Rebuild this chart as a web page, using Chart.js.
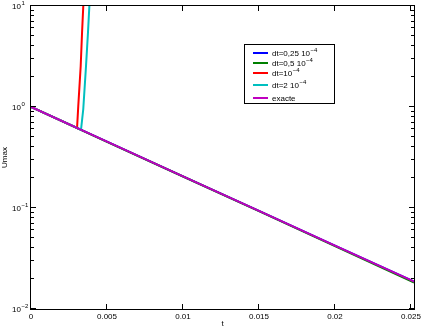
<!DOCTYPE html>
<html>
<head>
<meta charset="utf-8">
<script src="https://cdn.jsdelivr.net/npm/chart.js@4/dist/chart.umd.min.js"></script>
<style>
  html, body { margin: 0; padding: 0; background: #fff; }
  canvas { display: block; }
</style>
</head>
<body>
<canvas id="myChart" width="421" height="330"></canvas>
<script>
// values
const tExact = [0, 0.005, 0.01, 0.015, 0.02, 0.025, 0.0252];
const uExact = [1, 0.454, 0.206, 0.0935, 0.0424, 0.0193, 0.0187];

const tDt025 = [0, 0.005, 0.01, 0.015, 0.02, 0.025, 0.0252];
const uDt025 = [1, 0.454, 0.206, 0.0935, 0.0424, 0.0193, 0.0187];

const tDt05 = [0, 0.005, 0.01, 0.015, 0.02, 0.025, 0.0252];
const uDt05 = [1, 0.452, 0.205, 0.093, 0.042, 0.0189, 0.0183];

const tDt1 = [0, 0.00303, 0.00311, 0.00327, 0.00336, 0.00344, 0.0035];
const uDt1 = [1, 0.62, 1.02, 2.55, 5.5, 10, 13];

const tDt2 = [0, 0.00329, 0.00344, 0.00362, 0.00375, 0.00384, 0.0039];
const uDt2 = [1, 0.595, 0.955, 2.55, 5.5, 10, 13];

const xTickValues = [0, 0.005, 0.01, 0.015, 0.02, 0.025];
const xTickLabels = ['0', '0.005', '0.01', '0.015', '0.02', '0.025'];
const yTickValues = [0.01, 0.1, 1, 10];
const yTickExps = ['\u22122', '\u22121', '0', '1'];

const legendLabels = [
    ['dt=0,25 10', '\u22124'],
    ['dt=0,5 10', '\u22124'],
    ['dt=10', '\u22124'],
    ['dt=2 10', '\u22124'],
    ['exacte', '']
];

const FONT = '"Liberation Sans", Arial, sans-serif';

function pts(ts, us) {
    return ts.map((t, i) => ({ x: t, y: us[i] }));
}

function line(label, ts, us, color, order) {
    return {
        label: label,
        data: pts(ts, us),
        borderColor: color,
        backgroundColor: color,
        borderWidth: 2,
        pointRadius: 0,
        tension: 0,
        order: order,
        clip: 0
    };
}

// text with a small raised exponent
function supText(ctx, x, y, base, exp, align) {
    ctx.font = '8px ' + FONT;
    const wb = ctx.measureText(base).width;
    ctx.font = '6px ' + FONT;
    const we = exp ? ctx.measureText(exp).width : 0;
    let x0 = x;
    if (align === 'right') x0 = x - wb - we;
    ctx.textAlign = 'left';
    ctx.textBaseline = 'alphabetic';
    ctx.font = '8px ' + FONT;
    ctx.fillText(base, x0, y + 3);
    if (exp) {
        ctx.font = '6px ' + FONT;
        ctx.fillText(exp, x0 + wb + 0.5, y - 1);
    }
}

const framePlugin = {
    id: 'frame',
    afterDraw(chart) {
        const ctx = chart.ctx;
        const a = chart.chartArea;
        const xs = chart.scales.x, ys = chart.scales.y;
        ctx.save();
        ctx.strokeStyle = '#000';
        ctx.fillStyle = '#000';
        ctx.lineWidth = 1;
        ctx.strokeRect(Math.round(a.left) - 0.5, Math.round(a.top) - 0.5,
            Math.round(a.right - a.left) + 1, Math.round(a.bottom - a.top) + 1);

        ctx.beginPath();
        // x ticks, bottom and top
        xTickValues.forEach(v => {
            const px = Math.round(xs.getPixelForValue(v)) - 0.5;
            ctx.moveTo(px, a.bottom); ctx.lineTo(px, a.bottom - 5);
            ctx.moveTo(px, a.top); ctx.lineTo(px, a.top + 5);
        });
        // y ticks, major and minor, left and right
        for (let d = 0; d < yTickValues.length; d++) {
            const dec = yTickValues[d];
            const py = Math.round(ys.getPixelForValue(dec)) - 0.5;
            ctx.moveTo(a.left, py); ctx.lineTo(a.left + 5, py);
            ctx.moveTo(a.right, py); ctx.lineTo(a.right - 5, py);
            if (d < yTickValues.length - 1) {
                for (let m = 2; m <= 9; m++) {
                    const pm = Math.round(ys.getPixelForValue(dec * m)) - 0.5;
                    ctx.moveTo(a.left, pm); ctx.lineTo(a.left + 3, pm);
                    ctx.moveTo(a.right, pm); ctx.lineTo(a.right - 3, pm);
                }
            }
        }
        ctx.stroke();

        // tick labels
        ctx.font = '8px ' + FONT;
        ctx.textAlign = 'center';
        ctx.textBaseline = 'middle';
        xTickValues.forEach((v, i) => {
            ctx.fillText(xTickLabels[i], xs.getPixelForValue(v), a.bottom + 8);
        });
        yTickValues.forEach((v, i) => {
            supText(ctx, 12, ys.getPixelForValue(v), '10', yTickExps[i], 'left');
        });

        // axis titles
        ctx.font = '8px ' + FONT;
        ctx.textAlign = 'center';
        ctx.textBaseline = 'middle';
        ctx.fillText('t', (a.left + a.right) / 2, a.bottom + 15);
        ctx.save();
        ctx.translate(5, (a.top + a.bottom) / 2);
        ctx.rotate(-Math.PI / 2);
        ctx.fillText('Umax', 0, 0);
        ctx.restore();

        // legend
        const lx = 244.5, ly = 44.5, lw = 90, lh = 59;
        ctx.fillStyle = '#fff';
        ctx.fillRect(lx, ly, lw, lh);
        ctx.strokeStyle = '#000';
        ctx.strokeRect(lx, ly, lw, lh);
        const rowY = [53, 63, 73, 85, 98];
        const dsOrder = [1, 2, 3, 4, 0];
        ctx.lineWidth = 2;
        legendLabels.forEach((lab, i) => {
            const ds = chart.data.datasets[dsOrder[i]];
            ctx.strokeStyle = ds.borderColor;
            ctx.beginPath();
            ctx.moveTo(253, rowY[i]);
            ctx.lineTo(268, rowY[i]);
            ctx.stroke();
            ctx.fillStyle = '#000';
            supText(ctx, 272, rowY[i], lab[0], lab[1], 'left');
        });
        ctx.restore();
    }
};

const ctx = document.getElementById('myChart').getContext('2d');
const myChart = new Chart(ctx, {
    type: 'line',
    data: {
        datasets: [
            line('exacte', tExact, uExact, '#bf00bf', 0),
            line('dt=0,25e-4', tDt025, uDt025, '#0000ff', 5),
            line('dt=0,5e-4', tDt05, uDt05, '#008000', 4),
            line('dt=1e-4', tDt1, uDt1, '#ff0000', 3),
            line('dt=2e-4', tDt2, uDt2, '#00bfbf', 2)
        ]
    },
    options: {
        responsive: false,
        animation: false,
        layout: { padding: { left: 0, right: 7, top: 6, bottom: 0 } },
        plugins: { legend: { display: false }, tooltip: { enabled: false } },
        scales: {
            x: {
                type: 'linear',
                min: 0,
                max: 0.0252,
                grid: { display: false },
                border: { display: false },
                ticks: { display: false },
                afterFit: function (scale) { scale.height = 21; }
            },
            y: {
                type: 'logarithmic',
                min: 0.01,
                max: 10,
                grid: { display: false },
                border: { display: false },
                ticks: { display: false },
                afterFit: function (scale) { scale.width = 31; }
            }
        }
    },
    plugins: [framePlugin]
});
</script>
</body>
</html>
